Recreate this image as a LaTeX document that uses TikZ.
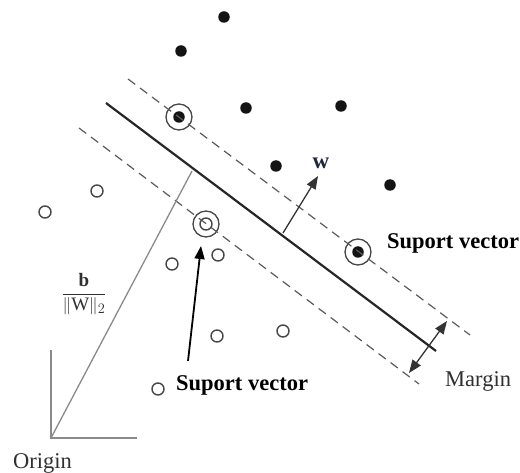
\documentclass[tikz,border=0pt]{standalone}
\usepackage{fontspec}
\setmainfont{Liberation Serif}
\usetikzlibrary{arrows.meta}
\definecolor{axisgray}{HTML}{8A8A8A}
\definecolor{dashgray}{HTML}{5A5A5A}
\definecolor{textgray}{HTML}{303030}
\definecolor{wblue}{HTML}{1E2540}
\begin{document}
\begin{tikzpicture}[x=1pt,y=-1pt,
  posdot/.style={circle,fill=black!92,inner sep=0pt,minimum size=11.5pt},
  negdot/.style={circle,draw=black!72,line width=1.4pt,inner sep=0pt,minimum size=12pt},
  svring/.style={circle,draw=black!72,line width=1.3pt,inner sep=0pt,minimum size=26pt},
  marginline/.style={draw=dashgray,line width=1.2pt,dash pattern=on 9pt off 6pt},
  hyper/.style={draw=black!85,line width=2.2pt},
  axisline/.style={draw=axisgray,line width=1.3pt},
  bigtext/.style={font=\fontsize{22.5}{24}\selectfont,inner sep=0pt},
  boldtext/.style={font=\fontsize{22.5}{24}\selectfont\bfseries,inner sep=0pt},
  headtip/.style={-{Triangle[length=13pt,width=10pt]}}
]
\useasboundingbox (0,0) rectangle (520,473);

% positive class (filled)
\node[posdot] (p1) at (224,17) {};
\node[posdot] (p2) at (181,51) {};
\node[posdot] (p3) at (246,108) {};
\node[posdot] (p4) at (341,106) {};
\node[posdot] (p5) at (276,166) {};
\node[posdot] (p6) at (390,185) {};
\node[posdot] (sv1) at (179,117) {};
\node[svring] (sv1ring) at (sv1) {};
\node[posdot] (sv3) at (358,252) {};
\node[svring] (sv3ring) at (sv3) {};

% negative class (open)
\node[negdot] (n1) at (97,191) {};
\node[negdot] (n2) at (45,212) {};
\node[negdot] (sv2) at (206,224) {};
\node[svring] (sv2ring) at (sv2) {};
\node[negdot] (n3) at (172,264) {};
\node[negdot] (n4) at (218,255) {};
\node[negdot] (n5) at (217,336) {};
\node[negdot] (n6) at (283,331) {};
\node[negdot] (n7) at (158,389) {};

% separating hyperplane and margin boundaries
\coordinate (hA) at (106,103);
\coordinate (hB) at (436,351);
\coordinate (uA) at (128,79);
\coordinate (uB) at (470,335);
\coordinate (lA) at (79,128);
\coordinate (lB) at (419,384);
\draw[marginline] (uA) -- (uB);
\draw[marginline] (lA) -- (lB);
\draw[hyper] (hA) -- (hB);

% origin axes and offset to the hyperplane
\coordinate (O) at (51,438);
\coordinate (yax) at (51,350);
\coordinate (xax) at (137,438);
\coordinate (foot) at (192,171);
\draw[axisline] (yax) -- (O) -- (xax);
\draw[axisline] (O) -- (foot);

% normal vector w
\coordinate (wtail) at (283,233);
\coordinate (whead) at (318,176);
\draw[line width=1.3pt,draw=black!80,headtip] (wtail) -- (whead);
\node[font=\fontsize{23}{24}\selectfont\bfseries,text=wblue,inner sep=0pt] (wlbl) at (321,163) {w};

% margin width
\coordinate (mU) at (447,321);
\coordinate (mL) at (409,373);
\draw[line width=1.3pt,draw=black!80,{Triangle[length=13pt,width=10pt]}-{Triangle[length=13pt,width=10pt]}] (mL) -- (mU);
\node[bigtext,text=textgray,anchor=west] (margin) at (445,381) {Margin};

% labels
\node[boldtext,anchor=west] (svlblR) at (387,243) {Suport vector};
\node[boldtext,anchor=west] (svlblB) at (176,385) {Suport vector};
\coordinate (svarrow) at (188,361);
\coordinate (svtip) at (201,246);
\draw[line width=1.8pt,headtip] (svarrow) -- (svtip);
\node[bigtext,text=textgray,anchor=west] (origin) at (13,463) {Origin};
\node[inner sep=0pt,text=textgray,font=\fontsize{19}{21}\selectfont] (frac) at (84,294)
  {$\displaystyle\frac{\mathbf{b}}{\|\mathrm{W}\|_2}$};
\end{tikzpicture}
\end{document}
